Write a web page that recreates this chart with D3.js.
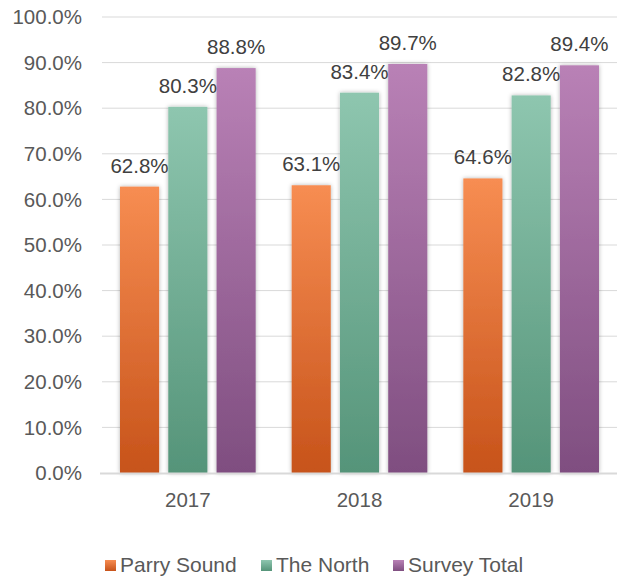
<!DOCTYPE html>
<html><head><meta charset="utf-8">
<script src="https://cdn.jsdelivr.net/npm/d3@7"></script>
<style>body{margin:0;background:#fff}svg{display:block}text{font-family:"Liberation Sans",Arial,sans-serif}</style>
</head><body>
<svg id="c" width="619" height="577"></svg>
<script>
const years = ["2017","2018","2019"];
const seriesNames = ["Parry Sound","The North","Survey Total"];
const parrySound = [62.8, 63.1, 64.6];
const theNorth = [80.3, 83.4, 82.8];
const surveyTotal = [88.8, 89.7, 89.4];
const yTicks = [0,10,20,30,40,50,60,70,80,90,100];
const gradTop = ["#F78D52","#8EC6AF","#B981B6"];
const gradBot = ["#C7531A","#559479","#7F4E80"];

const seriesVals = [parrySound, theNorth, surveyTotal];
const svg = d3.select("#c");
const m = {l:102, r:617, t:17, b:473};
const x = d3.scaleBand().domain(years).range([m.l, m.r]).paddingInner(0).paddingOuter(0);
const y = d3.scaleLinear().domain([0,100]).range([m.b, m.t]);
const xs = d3.scaleBand().domain(seriesNames).range([18, x.bandwidth()-18]).paddingInner(0.19);

const defs = svg.append("defs");
seriesNames.forEach((s,i)=>{
  const g = defs.append("linearGradient").attr("id","g"+i).attr("x1",0).attr("y1",0).attr("x2",0).attr("y2",1);
  g.append("stop").attr("offset","0%").attr("stop-color",gradTop[i]);
  g.append("stop").attr("offset","100%").attr("stop-color",gradBot[i]);
});
const f = defs.append("filter").attr("id","sh").attr("x","-20%").attr("y","-20%").attr("width","140%").attr("height","140%");
f.append("feDropShadow").attr("dx",0).attr("dy",0).attr("stdDeviation",2).attr("flood-color","#000").attr("flood-opacity",0.3);

// gridlines
svg.append("g").selectAll("line").data(yTicks.slice(1)).join("line")
  .attr("x1",m.l).attr("x2",m.r).attr("y1",d=>y(d)).attr("y2",d=>y(d))
  .attr("stroke","#D9D9D9").attr("stroke-width",1);
// y labels
svg.append("g").selectAll("text").data(yTicks).join("text")
  .attr("x",82).attr("y",d=>y(d)).attr("dy","0.35em").attr("text-anchor","end")
  .attr("font-size",20.5).attr("fill","#595959").text(d=>d.toFixed(1)+"%");

// bars
const groups = svg.append("g").selectAll("g").data(years).join("g")
  .attr("transform",d=>`translate(${x(d)},0)`);
seriesNames.forEach((s,i)=>{
  groups.append("rect")
    .attr("x",xs(s)).attr("width",xs.bandwidth())
    .attr("y",(d,j)=>y(seriesVals[i][j])).attr("height",(d,j)=>m.b - y(seriesVals[i][j]))
    .attr("fill",`url(#g${i})`).attr("filter","url(#sh)");
});
seriesNames.forEach((s,i)=>{
  groups.append("text")
    .attr("x",xs(s)+xs.bandwidth()/2).attr("y",(d,j)=>y(seriesVals[i][j])-14)
    .attr("text-anchor","middle").attr("font-size",20.5).attr("fill","#404040")
    .text((d,j)=>seriesVals[i][j].toFixed(1)+"%");
});

// axis line
svg.append("line").attr("x1",m.l-2).attr("x2",m.r).attr("y1",m.b+0.5).attr("y2",m.b+0.5)
  .attr("stroke","#D9D9D9").attr("stroke-width",2);
// x labels
svg.append("g").selectAll("text").data(years).join("text")
  .attr("x",d=>x(d)+x.bandwidth()/2).attr("y",507).attr("text-anchor","middle")
  .attr("font-size",20.5).attr("fill","#595959").text(d=>d);

// legend
const legX = [105, 261, 393];
const leg = svg.append("g").selectAll("g").data(seriesNames).join("g")
  .attr("transform",(d,i)=>`translate(${legX[i]},560)`);
leg.append("rect").attr("width",11).attr("height",11).attr("fill",(d,i)=>`url(#g${i})`);
leg.append("text").attr("x",15).attr("y",12).attr("font-size",21).attr("fill","#595959").text(d=>d);
</script>
</body></html>
